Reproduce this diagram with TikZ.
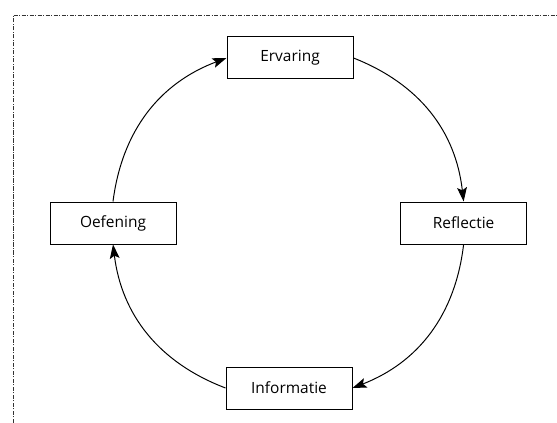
\documentclass[tikz,border=0pt]{standalone}
\usepackage{fontspec}
\setmainfont{Open Sans}
\usetikzlibrary{arrows.meta}

\begin{document}
\begin{tikzpicture}[
	box/.style={draw,line width=.7pt,minimum width=3.15cm,minimum height=1.05cm,inner sep=0pt,font=\fontsize{11}{13}\selectfont},
	cycle/.style={line width=.7pt,-{Stealth[length=10pt,width=7pt,inset=2pt]}}
	]

	\useasboundingbox (0,0) rectangle (13.925,10.575);

	% frame, only top and left are shown
	\draw[black!80,line width=.6pt,dash pattern=on 3pt off 1pt on .7pt off 1pt] (0.325,0) -- (0.325,10.2) -- (13.925,10.2);

	\node[box] (erv) at (7.25,9.125) {Ervaring};
	\node[box] (ref) at (11.59,5) {Reflectie};
	\node[box] (inf) at (7.225,0.875) {Informatie};
	\node[box] (oef) at (2.825,5) {Oefening};

	\draw[cycle] (erv.east) to[bend left=31] (ref.north);
	\draw[cycle] (ref.south) to[bend left=31] (inf.east);
	\draw[cycle] (inf.west) to[bend left=31] (oef.south);
	\draw[cycle] (oef.north) to[bend left=31] (erv.west);

\end{tikzpicture}
\end{document}
